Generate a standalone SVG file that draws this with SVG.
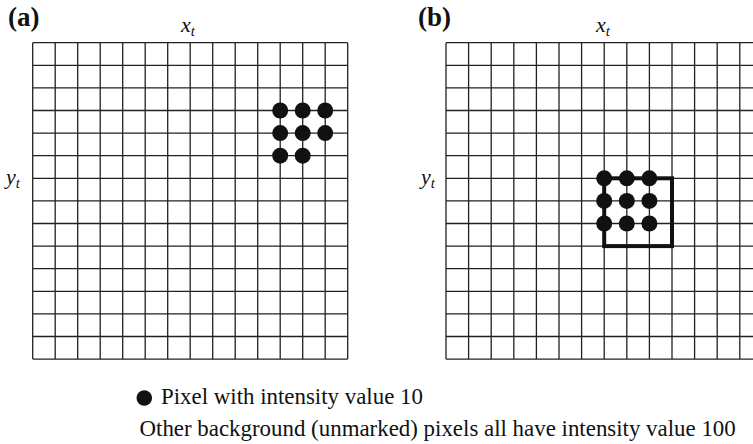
<svg xmlns="http://www.w3.org/2000/svg" width="753" height="444" viewBox="0 0 753 444">
<style>
.grid{fill:none;stroke:#222;stroke-width:1.3}
.dot{fill:#111}
.lbl{font-family:"Liberation Serif","Times New Roman",serif;fill:#111}
.panel{font-weight:bold;font-size:27px}
.var{font-style:italic;font-size:22px}
.sub{font-size:15px}
.leg{font-size:22.9px}
</style>
<rect width="753" height="444" fill="#fff"/>
<g id="panel-a">
<text class="lbl panel" x="8" y="26">(a)</text>
<text class="lbl var" x="181" y="32">x<tspan class="sub" dy="4">t</tspan></text>
<text class="lbl var" x="6" y="184">y<tspan class="sub" dy="4">t</tspan></text>
<path class="grid" d="M32.7 42.7V359.1M55.2 42.7V359.1M77.7 42.7V359.1M100.2 42.7V359.1M122.7 42.7V359.1M145.2 42.7V359.1M167.7 42.7V359.1M190.2 42.7V359.1M212.7 42.7V359.1M235.2 42.7V359.1M257.7 42.7V359.1M280.2 42.7V359.1M302.7 42.7V359.1M325.2 42.7V359.1M347.7 42.7V359.1M32.7 42.7H347.7M32.7 65.3H347.7M32.7 87.9H347.7M32.7 110.5H347.7M32.7 133.1H347.7M32.7 155.7H347.7M32.7 178.3H347.7M32.7 200.9H347.7M32.7 223.5H347.7M32.7 246.1H347.7M32.7 268.7H347.7M32.7 291.3H347.7M32.7 313.9H347.7M32.7 336.5H347.7M32.7 359.1H347.7"/>
<g id="dots-a">
<circle class="dot" cx="280.2" cy="110.5" r="8"/><circle class="dot" cx="302.7" cy="110.5" r="8"/><circle class="dot" cx="325.2" cy="110.5" r="8"/>
<circle class="dot" cx="280.2" cy="133.1" r="8"/><circle class="dot" cx="302.7" cy="133.1" r="8"/><circle class="dot" cx="325.2" cy="133.1" r="8"/>
<circle class="dot" cx="280.2" cy="155.7" r="8"/><circle class="dot" cx="302.7" cy="155.7" r="8"/>
</g>
</g>
<g id="panel-b">
<text class="lbl panel" x="418" y="26">(b)</text>
<text class="lbl var" x="596" y="32">x<tspan class="sub" dy="4">t</tspan></text>
<text class="lbl var" x="421" y="184">y<tspan class="sub" dy="4">t</tspan></text>
<path class="grid" d="M446 42.7V359.1M468.6 42.7V359.1M491.2 42.7V359.1M513.8 42.7V359.1M536.4 42.7V359.1M559 42.7V359.1M581.6 42.7V359.1M604.2 42.7V359.1M626.8 42.7V359.1M649.4 42.7V359.1M672 42.7V359.1M694.6 42.7V359.1M717.2 42.7V359.1M739.8 42.7V359.1M762.4 42.7V359.1M446 42.7H762.4M446 65.3H762.4M446 87.9H762.4M446 110.5H762.4M446 133.1H762.4M446 155.7H762.4M446 178.3H762.4M446 200.9H762.4M446 223.5H762.4M446 246.1H762.4M446 268.7H762.4M446 291.3H762.4M446 313.9H762.4M446 336.5H762.4M446 359.1H762.4"/>
<rect id="window-b" x="604.2" y="178.3" width="67.8" height="67.8" fill="none" stroke="#111" stroke-width="4"/>
<g id="dots-b">
<circle class="dot" cx="604.2" cy="178.3" r="8"/><circle class="dot" cx="626.8" cy="178.3" r="8"/><circle class="dot" cx="649.4" cy="178.3" r="8"/>
<circle class="dot" cx="604.2" cy="200.9" r="8"/><circle class="dot" cx="626.8" cy="200.9" r="8"/><circle class="dot" cx="649.4" cy="200.9" r="8"/>
<circle class="dot" cx="604.2" cy="223.5" r="8"/><circle class="dot" cx="626.8" cy="223.5" r="8"/><circle class="dot" cx="649.4" cy="223.5" r="8"/>
</g>
</g>
<g id="legend">
<circle class="dot" cx="144.3" cy="398" r="7.8"/>
<text class="lbl leg" x="161" y="404">Pixel with intensity value 10</text>
<text class="lbl leg" x="139.5" y="436">Other background (unmarked) pixels all have intensity value 100</text>
</g>
</svg>
